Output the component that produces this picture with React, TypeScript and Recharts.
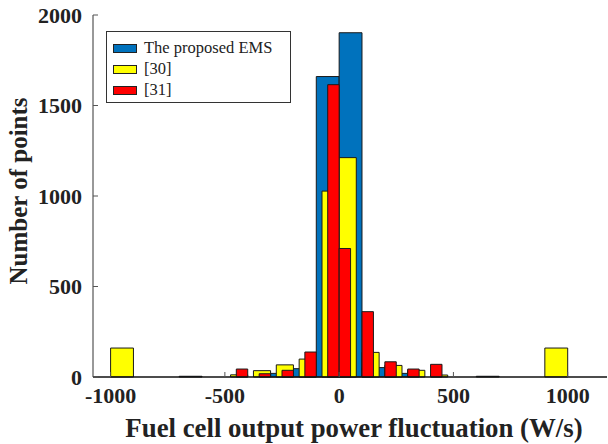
import { ComposedChart, XAxis, YAxis, ReferenceArea } from "recharts"

type Bin = { x0: number; x1: number; count: number }

// bin edges (W/s) and counts
const emsBins: Bin[] = [
  { x0: -700, x1: -600, count: 4 },
  { x0: -300, x1: -200, count: 20 },
  { x0: -200, x1: -100, count: 46 },
  { x0: -100, x1: 0, count: 1660 },
  { x0: 0, x1: 100, count: 1902 },
  { x0: 100, x1: 200, count: 52 },
  { x0: 200, x1: 300, count: 20 },
  { x0: 600, x1: 700, count: 4 },
]

const ref30Bins: Bin[] = [
  { x0: -1000, x1: -900, count: 160 },
  { x0: -475, x1: -400, count: 12 },
  { x0: -375, x1: -300, count: 35 },
  { x0: -275, x1: -200, count: 67 },
  { x0: -175, x1: -100, count: 99 },
  { x0: -75, x1: 0, count: 1027 },
  { x0: 0, x1: 75, count: 1212 },
  { x0: 100, x1: 175, count: 136 },
  { x0: 200, x1: 275, count: 64 },
  { x0: 300, x1: 375, count: 37 },
  { x0: 400, x1: 475, count: 11 },
  { x0: 900, x1: 1000, count: 160 },
]

const ref31Bins: Bin[] = [
  { x0: -450, x1: -400, count: 44 },
  { x0: -350, x1: -300, count: 18 },
  { x0: -250, x1: -200, count: 37 },
  { x0: -150, x1: -100, count: 138 },
  { x0: -50, x1: 0, count: 1615 },
  { x0: 0, x1: 50, count: 710 },
  { x0: 100, x1: 150, count: 361 },
  { x0: 200, x1: 250, count: 84 },
  { x0: 300, x1: 350, count: 44 },
  { x0: 400, x1: 450, count: 70 },
]

const xTicks = [-1000, -500, 0, 500, 1000]
const yTicks = [0, 500, 1000, 1500, 2000]
const xDomain = [-1077, 1172]
const yDomain = [0, 2000]

const series = [
  { name: "The proposed EMS", color: "#0072BD", bins: emsBins },
  { name: "[30]", color: "#FFFF00", bins: ref30Bins },
  { name: "[31]", color: "#FF0000", bins: ref31Bins },
]

// one row per bin so the axes have data to work from
const chartData = series.flatMap((s) => s.bins.map((b) => ({ x: (b.x0 + b.x1) / 2, y: b.count })))

const font = "'Liberation Serif', 'Times New Roman', serif"
const tickStyle = { fontFamily: font, fontWeight: 700, fontSize: 22, fill: "#222" }

export default function App() {
  return (
    <div style={{ position: "fixed", left: 0, top: 0, width: 608, height: 444, background: "#fff" }}>
      <ComposedChart width={608} height={444} data={chartData} margin={{ top: 15, right: 1, bottom: 7, left: 23 }}>
        <XAxis
          type="number"
          dataKey="x"
          domain={xDomain}
          ticks={xTicks}
          allowDataOverflow
          height={60}
          tick={tickStyle}
          tickSize={-5}
          tickMargin={15}
          axisLine={{ stroke: "#111", strokeWidth: 1.5 }}
          tickLine={{ stroke: "#555" }}
          label={{
            value: "Fuel cell output power fluctuation (W/s)",
            position: "insideBottom",
            offset: 0,
            dx: 4,
            style: { fontFamily: font, fontWeight: 700, fontSize: 26.8, fill: "#222" },
          }}
        />
        <XAxis
          xAxisId="top"
          orientation="top"
          type="number"
          dataKey="x"
          domain={xDomain}
          ticks={xTicks}
          allowDataOverflow
          height={0}
          tick={false}
          tickSize={-5}
          axisLine={{ stroke: "#555" }}
          tickLine={{ stroke: "#555" }}
        />
        <YAxis
          type="number"
          dataKey="y"
          domain={yDomain}
          ticks={yTicks}
          allowDataOverflow
          width={70}
          tick={tickStyle}
          tickSize={-5}
          tickMargin={16}
          axisLine={{ stroke: "#333" }}
          tickLine={{ stroke: "#555" }}
          label={{
            value: "Number of points",
            angle: -90,
            position: "center",
            dx: -40,
            dy: -5,
            style: { fontFamily: font, fontWeight: 700, fontSize: 25, fill: "#222", textAnchor: "middle" },
          }}
        />
        <YAxis
          yAxisId="right"
          orientation="right"
          type="number"
          dataKey="y"
          domain={yDomain}
          ticks={yTicks}
          allowDataOverflow
          width={0}
          tick={false}
          tickSize={-5}
          axisLine={{ stroke: "#888" }}
          tickLine={{ stroke: "#555" }}
        />
        {series.map((s) =>
          s.bins.map((b, i) => (
            <ReferenceArea
              key={s.name + i}
              x1={b.x0}
              x2={b.x1}
              y1={0}
              y2={b.count}
              fill={s.color}
              fillOpacity={1}
              stroke="#1a1a1a"
              strokeWidth={1}
              ifOverflow="visible"
            />
          ))
        )}
      </ComposedChart>
      <div
        style={{
          position: "absolute",
          left: 106,
          top: 31,
          width: 183,
          height: 70,
          border: "1px solid #333",
          background: "#fff",
          fontFamily: font,
          fontSize: 16.5,
          color: "#222",
        }}
      >
        {series.map((s, i) => (
          <div
            key={s.name}
            style={{ position: "absolute", left: 6, top: 7 + i * 21, height: 18, display: "flex", alignItems: "center" }}
          >
            <span
              style={{
                display: "inline-block",
                width: 22,
                height: 7,
                background: s.color,
                border: "1px solid #222",
                marginRight: 7,
              }}
            />
            <span>{s.name}</span>
          </div>
        ))}
      </div>
    </div>
  )
}
